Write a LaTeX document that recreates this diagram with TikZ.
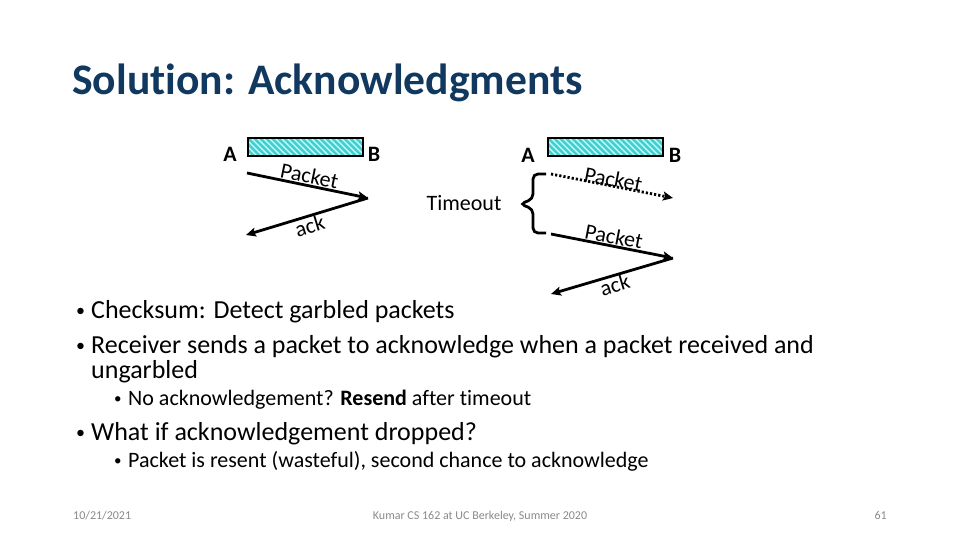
\documentclass[tikz,border=0pt]{standalone}
\usepackage{fontspec}
\setmainfont{Carlito}[Ligatures=NoCommon]
\usetikzlibrary{arrows.meta}
\definecolor{titleblue}{RGB}{17,56,94}
\definecolor{stripe}{RGB}{64,208,208}
\definecolor{barbg}{RGB}{210,255,255}
\definecolor{footgray}{RGB}{137,137,137}
\tikzset{
  msg/.style={line width=2.8pt,-{Stealth[length=10pt,width=9pt,inset=2pt]}},
  dotmsg/.style={msg,dash pattern=on 2.2pt off 2pt},
  lbl/.style={inner sep=0pt,font=\fontsize{22}{26}\selectfont},
  host/.style={inner sep=0pt,font=\fontsize{22}{26}\selectfont\bfseries},
  bul/.style={anchor=base west,inner sep=0pt,font=\fontsize{26}{31}\selectfont},
  buldot/.style={anchor=base west,inner sep=0pt,font=\fontsize{18}{22}\selectfont},
  subbul/.style={anchor=base west,inner sep=0pt,font=\fontsize{22}{26}\selectfont},
  subdot/.style={anchor=base west,inner sep=0pt,font=\fontsize{15}{18}\selectfont},
  foot/.style={anchor=base,inner sep=0pt,text=footgray,font=\fontsize{12}{14}\selectfont}
}
\newcommand{\hatchbar}[2]{%
  \fill[barbg] (#1,#2) rectangle ++(115,18);
  \begin{scope}
    \clip (#1,#2) rectangle ++(115,18);
    \foreach \k in {-24,-18,...,120} {
      \draw[stripe,line width=2.6pt] (#1+\k,#2) -- ++(18,18);
    }
  \end{scope}
  \draw[line width=1.8pt] (#1,#2) rectangle ++(115,18);
}
\begin{document}
\begin{tikzpicture}[x=1pt,y=-1pt]
\useasboundingbox (0,0) rectangle (960,540);
% title
\node[anchor=base west,inner sep=0pt,text=titleblue,font=\fontsize{43.6}{52}\selectfont\bfseries] (title) at (72,95) {Solution: Acknowledgments};

% left diagram
\hatchbar{248}{138}
\node[host] (A1) at (230,154) {A};
\node[host] (B1) at (374,154) {B};
\coordinate (ls) at (247,173);
\coordinate (lr) at (368,198);
\coordinate (le) at (246,235);
\draw[msg] (ls) -- (lr);
\draw[msg] (lr) -- (le);
\path (ls) -- (lr) node[lbl,midway,sloped,above=2pt] (p1) {Packet};
\path (le) -- (lr) node[lbl,midway,sloped,below=1.5pt] (a1) {ack};

% right diagram
\hatchbar{548}{138}
\node[host] (A2) at (528,155) {A};
\node[host] (B2) at (675,155) {B};
\coordinate (rs1) at (551,174);
\coordinate (re1) at (673,198);
\coordinate (rs2) at (551,234);
\coordinate (rr2) at (673,258);
\coordinate (re2) at (551,294);
\draw[dotmsg] (rs1) -- (re1);
\draw[msg] (rs2) -- (rr2);
\draw[msg] (rr2) -- (re2);
\path (rs1) -- (re1) node[lbl,midway,sloped,above=-1pt] (p2) {Packet};
\path (rs2) -- (rr2) node[lbl,midway,sloped,above=2pt] (p3) {Packet};
\path (re2) -- (rr2) node[lbl,midway,sloped,below=1.5pt] (a2) {ack};
% brace
\draw[line width=2.8pt,rounded corners=5pt] (546,174) -- (533,174) -- (533,199) -- (520,204) -- (533,209) -- (533,233) -- (546,233);
\node[lbl] (to) at (464,203) {Timeout};

% bullets
\node[buldot] (b1d) at (76,316) {•};
\node[bul] (b1) at (91,318) {Checksum: Detect garbled packets};
\node[buldot] (b2d) at (76,351) {•};
\node[bul] (b2) at (91,353) {Receiver sends a packet to acknowledge when a packet received and};
\node[bul] (b2b) at (91,378) {ungarbled};
\node[subdot] (s1d) at (114,403) {•};
\node[subbul] (s1) at (128,405) {No acknowledgement? \textbf{Resend} after timeout};
\node[buldot] (b3d) at (76,438) {•};
\node[bul] (b3) at (91,440) {What if acknowledgement dropped?};
\node[subdot] (s2d) at (114,465) {•};
\node[subbul] (s2) at (128,467) {Packet is resent (wasteful), second chance to acknowledge};

% footer
\node[foot,anchor=base west] (f1) at (73,519) {10/21/2021};
\node[foot] (f2) at (480,519) {Kumar CS 162 at UC Berkeley, Summer 2020};
\node[foot,anchor=base east] (f3) at (887,519) {61};
\end{tikzpicture}
\end{document}
